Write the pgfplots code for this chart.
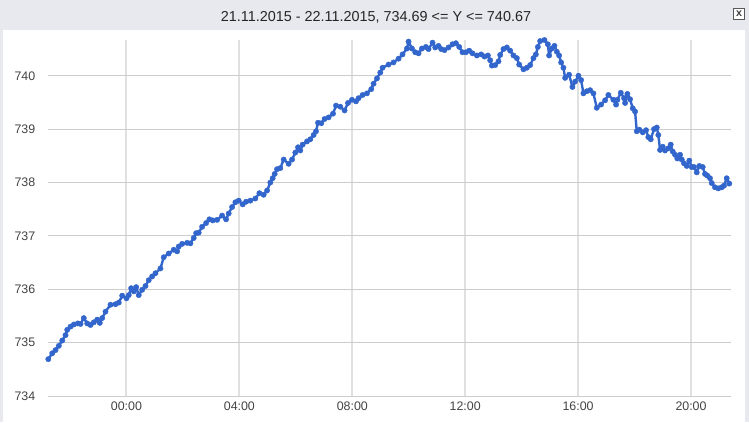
\documentclass[border=0pt]{standalone}
\usepackage{pgfplots}
\pgfplotsset{compat=1.18}
\usepackage{fontspec}
\setmainfont{Liberation Sans}

\definecolor{panelgray}{RGB}{232,233,238}
\definecolor{hgrid}{RGB}{204,204,204}
\definecolor{vgrid}{RGB}{224,224,224}
\definecolor{lineblue}{RGB}{51,102,204}
\definecolor{ticktext}{RGB}{68,68,68}

\pgfplotstableread{
h v
-2.77 734.69
-2.630 734.80
-2.513 734.86
-2.396 734.94
-2.276 735.04
-2.159 735.14
-2.099 735.24
-1.982 735.30
-1.865 735.34
-1.724 735.36
-1.628 735.35
-1.512 735.46
-1.391 735.36
-1.274 735.33
-1.158 735.38
-1.037 735.43
-0.945 735.37
-0.860 735.46
-0.743 735.58
-0.566 735.71
-0.389 735.72
-0.273 735.75
-0.152 735.88
0.000 735.83
0.081 735.89
0.166 736.02
0.258 735.96
0.343 736.04
0.435 735.89
0.556 735.99
0.673 736.06
0.789 736.17
0.910 736.24
1.027 736.30
1.204 736.39
1.320 736.60
1.497 736.67
1.674 736.74
1.795 736.71
1.851 736.80
1.972 736.85
2.149 736.87
2.265 736.86
2.382 736.96
2.467 737.05
2.559 737.06
2.680 737.17
2.821 737.24
2.938 737.31
3.055 737.29
3.211 737.30
3.388 737.38
3.529 737.31
3.621 737.42
3.742 737.54
3.858 737.63
3.975 737.66
4.117 737.59
4.237 737.64
4.389 737.66
4.566 737.70
4.708 737.80
4.860 737.77
4.981 737.85
5.097 738.00
5.179 738.08
5.250 738.16
5.335 738.25
5.451 738.27
5.568 738.43
5.745 738.35
5.866 738.43
5.982 738.56
6.078 738.66
6.159 738.60
6.241 738.71
6.396 738.77
6.513 738.81
6.630 738.89
6.715 738.96
6.786 739.12
6.903 739.11
7.019 739.19
7.161 739.22
7.317 739.29
7.423 739.44
7.575 739.42
7.727 739.35
7.848 739.49
7.989 739.55
8.131 739.52
8.223 739.58
8.365 739.64
8.520 739.67
8.673 739.75
8.754 739.85
8.874 739.95
8.991 740.06
9.073 740.15
9.285 740.21
9.462 740.25
9.639 740.32
9.781 740.40
9.936 740.51
9.993 740.64
10.113 740.51
10.230 740.44
10.347 740.42
10.467 740.51
10.609 740.54
10.701 740.50
10.843 740.62
10.938 740.53
11.055 740.56
11.150 740.50
11.267 740.48
11.409 740.53
11.550 740.59
11.671 740.61
11.788 740.54
11.904 740.44
12.025 740.44
12.142 740.47
12.258 740.42
12.414 740.38
12.566 740.40
12.683 740.36
12.804 740.38
12.885 740.29
12.945 740.19
13.062 740.20
13.179 740.27
13.239 740.39
13.356 740.50
13.476 740.53
13.593 740.47
13.710 740.38
13.830 740.33
13.912 740.21
14.064 740.12
14.184 740.15
14.301 740.20
14.418 740.33
14.503 740.40
14.574 740.54
14.655 740.65
14.807 740.67
14.928 740.59
14.973 740.38
15.069 740.51
15.161 740.56
15.246 740.45
15.327 740.38
15.398 740.25
15.480 740.15
15.540 739.96
15.681 740.02
15.798 739.79
15.894 739.89
16.011 740.00
16.106 739.92
16.188 739.67
16.308 739.71
16.425 739.73
16.542 739.67
16.662 739.40
16.814 739.46
16.956 739.54
17.073 739.64
17.250 739.55
17.345 739.46
17.391 739.55
17.512 739.68
17.628 739.58
17.664 739.49
17.745 739.66
17.841 739.56
17.936 739.39
18.018 739.33
18.078 738.96
18.170 738.99
18.290 738.94
18.407 738.98
18.488 738.85
18.573 738.81
18.690 739.00
18.786 739.03
18.842 738.89
18.903 738.61
18.998 738.67
19.080 738.60
19.196 738.64
19.281 738.71
19.352 738.58
19.434 738.52
19.515 738.45
19.611 738.52
19.671 738.43
19.752 738.36
19.848 738.31
19.940 738.41
20.025 738.29
20.106 738.29
20.202 738.19
20.294 738.31
20.414 738.29
20.496 738.16
20.577 738.13
20.673 738.08
20.733 737.99
20.850 737.91
20.966 737.89
21.087 737.91
21.168 737.94
21.264 738.08
21.356 737.98
}\rates

\begin{document}
\begin{tikzpicture}[x=0.75pt,y=0.75pt]
% frame: gray window, white panel
\useasboundingbox (0,0) rectangle (749,422);
\fill[panelgray] (0,0) rectangle (749,422);
\fill[white] (3,0) rectangle (745,392);
\node[font=\fontsize{10.8}{13}\selectfont, text=black!85] at (376,405) {21.11.2015 - 22.11.2015, 734.69 <= Y <= 740.67};
% close box
\draw[black!65, line width=0.6pt, fill=white] (733.5,402.5) rectangle (744.5,413.5);
\node[font=\fontsize{8}{8}\selectfont\bfseries, text=black!75, inner sep=0pt] at (739,408) {x};
\coordinate (axorigin) at (48,26);

\begin{axis}[
  at={(axorigin)}, anchor=south west,
  scale only axis,
  width=511.9pt, height=267pt,
  xmin=-2.78, xmax=21.40,
  ymin=734, ymax=740.67,
  axis line style={draw=none},
  tick style={draw=none},
  xtick={0,4,8,12,16,20},
  xticklabels={00:00,04:00,08:00,12:00,16:00,20:00},
  ytick={734,735,736,737,738,739,740},
  yticklabel style={/pgf/number format/fixed, /pgf/number format/1000 sep={}},
  /pgf/number format/assume math mode=true,
  ticklabel style={font=\fontsize{9.3}{11}\selectfont, text=ticktext},
  xticklabel style={yshift=-1pt},
  yticklabel style={xshift=-6pt},
  xmajorgrids, ymajorgrids,
  x grid style={vgrid, line width=1.5pt},
  y grid style={hgrid, line width=0.75pt},
  clip=false,
]
\addplot[lineblue, line width=1.8pt, line join=round, mark=*, mark size=2pt,
  mark options={fill=lineblue, draw=lineblue, line width=0.3pt}] table[x=h, y=v] {\rates};
\end{axis}
\end{tikzpicture}
\end{document}
